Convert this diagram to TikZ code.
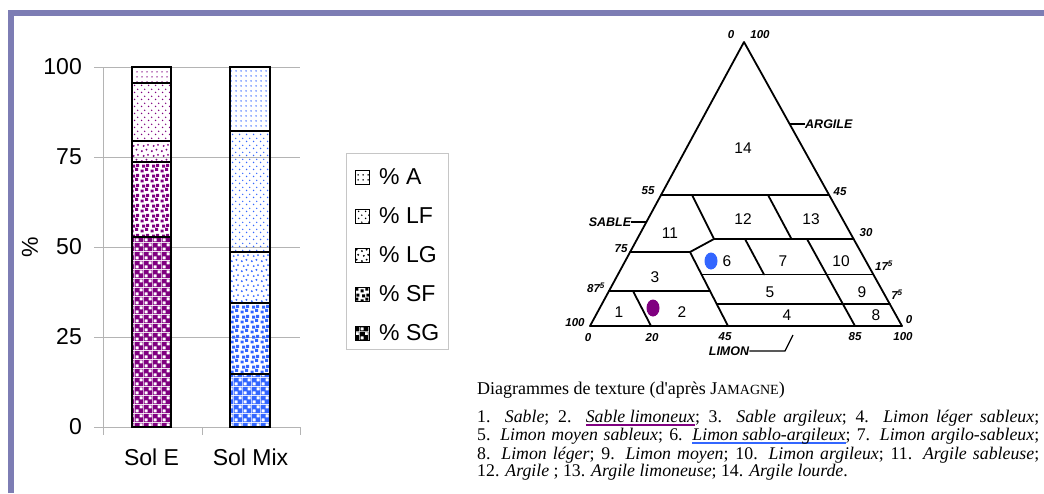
\documentclass[tikz,border=0pt]{standalone}
\usepackage{fontspec}
\setmainfont{Liberation Sans}
\newfontfamily\capfont{Liberation Serif}
\usepackage{xcolor}
\usetikzlibrary{patterns,shapes.geometric}

\definecolor{solpurple}{RGB}{128,0,128}
\definecolor{solblue}{RGB}{51,102,255}
\definecolor{framecol}{RGB}{125,125,180}
\definecolor{gridgray}{RGB}{180,180,180}

\pgfdeclarepatternformonly{texA}{\pgfpointorigin}{\pgfpoint{4.5pt}{4.5pt}}{\pgfpoint{4.5pt}{4.5pt}}{%
  \pgfpathcircle{\pgfpoint{2.25pt}{2.25pt}}{0.85pt}\pgfusepath{fill}}
\pgfdeclarepatternformonly{texLF}{\pgfpointorigin}{\pgfpoint{7pt}{7pt}}{\pgfpoint{7pt}{7pt}}{%
  \pgfpathcircle{\pgfpoint{1.75pt}{1.75pt}}{0.9pt}
  \pgfpathcircle{\pgfpoint{5.25pt}{5.25pt}}{0.9pt}\pgfusepath{fill}}
\pgfdeclarepatternformonly{texLG}{\pgfpointorigin}{\pgfpoint{10pt}{10pt}}{\pgfpoint{10pt}{10pt}}{%
  \pgfpathcircle{\pgfpoint{2pt}{2pt}}{1.1pt}
  \pgfpathcircle{\pgfpoint{7pt}{3.5pt}}{1.1pt}
  \pgfpathcircle{\pgfpoint{4pt}{7.5pt}}{1.1pt}
  \pgfpathcircle{\pgfpoint{8.6pt}{8.6pt}}{1.1pt}\pgfusepath{fill}}
\pgfdeclarepatternformonly{texSF}{\pgfpointorigin}{\pgfpoint{10pt}{10pt}}{\pgfpoint{10pt}{10pt}}{%
  \pgfpathrectangle{\pgfpoint{0.6pt}{0.6pt}}{\pgfpoint{3.2pt}{3.2pt}}
  \pgfpathrectangle{\pgfpoint{5.6pt}{2.4pt}}{\pgfpoint{3.2pt}{3.2pt}}
  \pgfpathrectangle{\pgfpoint{2.2pt}{5.8pt}}{\pgfpoint{3.2pt}{3.2pt}}
  \pgfpathrectangle{\pgfpoint{6.6pt}{6.6pt}}{\pgfpoint{3.2pt}{3.2pt}}\pgfusepath{fill}}
\pgfdeclarepatternformonly{texSG}{\pgfpointorigin}{\pgfpoint{9pt}{9pt}}{\pgfpoint{9pt}{9pt}}{%
  \pgfseteorule
  \pgfpathrectangle{\pgfpointorigin}{\pgfpoint{9pt}{9pt}}
  \pgfpathrectangle{\pgfpoint{0.6pt}{0.6pt}}{\pgfpoint{3.3pt}{3.3pt}}
  \pgfpathrectangle{\pgfpoint{5.1pt}{5.1pt}}{\pgfpoint{3.3pt}{3.3pt}}\pgfusepath{fill}}

\newcommand\smc[1]{{\fontsize{14}{14}\selectfont #1}}
\newcommand\markund[2]{\setbox0\hbox{#2}\rlap{\textcolor{#1}{\rule[-4pt]{\wd0}{2.2pt}}}\box0}

\begin{document}
\begin{tikzpicture}[x=1pt,y=-1pt,
  seg/.style={draw=black, line width=1.3pt},
  grid/.style={draw=gridgray, line width=1pt},
  chartlab/.style={font=\fontsize{23}{26}\selectfont, inner sep=0pt},
  tri/.style={line width=1.8pt, line join=round, line cap=round},
  zone/.style={font=\fontsize{15.5}{16}\selectfont, inner sep=0pt},
  scalelab/.style={font=\fontsize{11.5}{12}\selectfont\bfseries\itshape, inner sep=0pt},
  axisname/.style={font=\fontsize{12.5}{13}\selectfont\bfseries\itshape, inner sep=0pt},
  dot/.style={ellipse, minimum width=13pt, minimum height=17pt, inner sep=0pt},
  captxt/.style={font=\capfont\fontsize{17.8}{18}\selectfont, inner sep=0pt, anchor=west}]
\useasboundingbox (0,0) rectangle (1044,493);
\fill[white] (0,0) rectangle (1044,493);
\draw[framecol, line width=6pt] (11,493) -- (11,13) -- (1044,13);

% chart
\foreach \v/\yy in {0/427,25/337,50/247,75/157,100/67}{
  \draw[grid] (94,\yy) -- (300,\yy);
  \node[chartlab, anchor=east] (tick\v) at (82,\yy) {\v};
}
\draw[grid] (103,67) -- (103,435);
\draw[grid] (202,427) -- (202,435);
\draw[grid] (300,427) -- (300,435);
\node[chartlab, rotate=90] (ylab) at (30,247) {\%};

\foreach \ya/\yb/\pat in {427/237/texSG, 237/162/texSF, 162/141/texLG, 141/83/texLF, 83/67/texA}
  \draw[seg, pattern=\pat, pattern color=solpurple] (132,\ya) rectangle (171,\yb);
\foreach \ya/\yb/\pat in {427/374/texSG, 374/303/texSF, 303/252/texLG, 252/131/texLF, 131/67/texA}
  \draw[seg, pattern=\pat, pattern color=solblue] (230,\ya) rectangle (270,\yb);
\node[chartlab] (catE) at (151.5,457) {Sol E};
\node[chartlab] (catMix) at (250.5,457) {Sol Mix};

% legend
\draw[gray!45, line width=0.8pt] (346,153) rectangle (448,349);
\foreach \pat/\lab [count=\i from 0] in {texA/A,texLF/LF,texLG/LG,texSF/SF,texSG/SG}{
  \draw[pattern=\pat, line width=0.9pt] (355,{170+39*\i}) rectangle ++(14,14);
  \node[chartlab, anchor=west] (leg\lab) at (379,{177+39*\i}) {\% \lab};
}

% texture triangle
\draw[tri] (590,326) -- (744,42) -- (902,326) -- cycle;
\draw[tri] (661,195) -- (829,195);
\draw[tri] (630,252) -- (690,252) -- (714,239) -- (853.6,239);
\draw[tri] (609,291) -- (710,291);
\draw[tri] (701.6,274.5) -- (873.3,274.5);
\draw[tri] (716.7,304) -- (889.8,304);
\draw[tri] (692,195) -- (714,239);
\draw[tri] (690,252) -- (728,326);
\draw[tri] (745,239) -- (764,274.5);
\draw[tri] (768,195) -- (791.5,239);
\draw[tri] (807,239) -- (855,326);
\draw[tri] (633,291) -- (651,326);

\foreach \n/\px/\py in {14/743/148, 12/743/219, 13/811/219, 11/670/233, 6/727/261,
    7/783/261, 10/841/261, 3/655/277, 5/770/292, 9/862/292, 1/619/312, 2/682/312,
    4/787/315, 8/876/315}
  \node[zone] (z\n) at (\px,\py) {\n};

\node[dot, fill=solblue] (ptmix) at (711,261) {};
\node[dot, fill=solpurple] (pte) at (653,308) {};

\node[scalelab] (s0top) at (731,35) {0};
\node[scalelab] (s100top) at (760,35) {100};
\node[scalelab] (s55) at (648,191) {55};
\node[scalelab] (s75) at (621,249) {75};
\node[scalelab] (s875) at (596,288) {87\textsuperscript{5}};
\node[scalelab] (s100l) at (575,323) {100};
\node[scalelab] (s0b) at (588,338) {0};
\node[scalelab] (s20) at (652,338) {20};
\node[scalelab] (s45b) at (725,337) {45};
\node[scalelab] (s85) at (855,337) {85};
\node[scalelab] (s100b) at (903,337) {100};
\node[scalelab] (s0r) at (909,320) {0};
\node[scalelab] (s75r) at (897,295) {7\textsuperscript{5}};
\node[scalelab] (s175) at (884,266) {17\textsuperscript{5}};
\node[scalelab] (s30) at (866,233) {30};
\node[scalelab] (s45r) at (840,192) {45};

\node[axisname] (sable) at (610,222) {SABLE};
\coordinate (sableTip) at (646,222);
\draw[line width=1.2pt] (sable.east) -- (sableTip);
\node[axisname, anchor=west] (argile) at (805,124) {ARGILE};
\coordinate (argTip) at (790,124);
\draw[line width=1.2pt] (argTip) -- (argile.west);
\node[axisname] (limon) at (729,351) {LIMON};
\coordinate (limKnee) at (785,351);
\coordinate (limTip) at (793,335);
\draw[line width=1.2pt] (limon.east) -- (limKnee) -- (limTip);

% caption
\node[captxt, font=\capfont\fontsize{18}{18}\selectfont] (capttl) at (477,390)
  {Diagrammes de texture (d'après J\smc{AMAGNE})};
\node[captxt] (cap1) at (477,418) {\makebox[562pt][s]{1. \textit{Sable}; 2. \markund{solpurple}{\textit{Sable limoneux}}; 3. \textit{Sable argileux}; 4. \textit{Limon léger sableux};}};
\node[captxt] (cap2) at (477,436) {\makebox[562pt][s]{5. \textit{Limon moyen sableux}; 6. \markund{solblue}{\textit{Limon sablo-argileux}}; 7. \textit{Limon argilo-sableux};}};
\node[captxt] (cap3) at (477,455) {\makebox[562pt][s]{8. \textit{Limon léger}; 9. \textit{Limon moyen}; 10. \textit{Limon argileux}; 11. \textit{Argile sableuse};}};
\node[captxt] (cap4) at (477,472) {12. \textit{Argile} ; 13. \textit{Argile limoneuse}; 14. \textit{Argile lourde}.};
\end{tikzpicture}
\end{document}
